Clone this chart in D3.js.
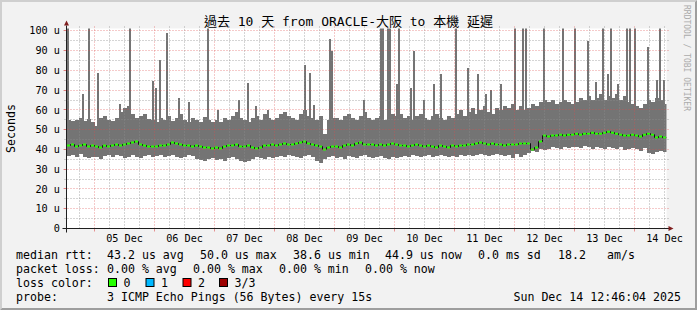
<!DOCTYPE html>
<html>
<head>
<meta charset="utf-8">
<script src="https://cdn.jsdelivr.net/npm/d3@7"></script>
<style>
body { margin: 0; background: #f2f2f2; }
svg { display: block; }
text { font-family: "DejaVu Sans Mono", "Noto Sans CJK TC", monospace; fill: #000; }
</style>
</head>
<body>
<svg width="697" height="310"></svg>
<script>
// rrd window: 10 days, consolidated every 96 minutes
const startTime = "2025-12-04T12:46:04";
const endTime = "2025-12-14T12:46:04";
const stepMinutes = 96;

// bottom of the smoke (us)
const lowRtt = [
  36.5, 37, 36, 37.5, 36, 35.5, 36,
  36, 35, 36.5, 37, 36, 37, 36.5, 35.5, 36, 37, 36, 35.5, 36.5, 37, 36,
  36.5, 37, 36, 36.5, 37, 36, 35.5, 36, 37, 36.5, 35, 34.5, 34, 35, 35.5,
  34.5, 35, 34, 35.5, 36, 35, 34, 33.5, 34, 35, 36, 35.5, 35, 36, 35.5,
  36, 36.5, 36, 37, 36.5, 36, 35.5, 36.5, 37, 36, 34, 33, 35, 36, 36.5,
  35.5, 36, 35, 36.5, 36, 35.5, 36.5, 37, 36, 35.5, 36, 36.5, 35.5, 35, 36,
  35.5, 36, 36.5, 36, 37, 36.5, 36, 36.5, 37, 36, 36.5, 37, 36.5, 36, 36.5,
  36, 37, 36.5, 37, 36.5, 37, 37.5, 37, 36.5, 37, 37.5, 37, 36.5, 37, 35.5,
  37.5, 36, 37, 38, 39, 38.5, 40, 39.5, 40, 41, 40.5, 40, 41, 40.5, 41,
  41, 40.5, 41.5, 41, 40, 41, 40.5, 40, 41, 40.5, 40, 41, 39.5, 40, 40.5,
  40, 39, 40.5, 38, 37.5, 38.5, 39, 38.5
];

// top of the dense smoke (us)
const highRtt = [
  55, 54.5, 55, 56, 54.5, 55.5, 54,
  52, 56, 57, 55, 54.5, 56, 59, 61, 62, 58, 56, 57, 58, 55.5, 55,
  54, 56, 55, 57, 54.5, 56, 58, 55, 54, 56, 55, 54, 56.5, 55, 54,
  55, 54, 56, 55, 57, 59, 56, 55, 54, 56, 57, 55, 58, 56, 55,
  56, 58, 59, 57, 56, 55, 58, 60, 57, 56, 55, 57, 48, 55, 56,
  56, 55, 57, 58, 56, 55, 57, 59, 56, 55, 56, 57, 55, 56, 58,
  57, 58, 56, 57, 55, 57, 58, 56, 55, 57, 58, 56, 55, 57, 56,
  58, 60, 57, 59, 61, 58, 60, 62, 59, 58, 61, 60, 62, 61, 63,
  60, 62, 60, 61, 63, 62, 64, 65, 64, 65, 63, 64, 65, 64, 63,
  64, 66, 65, 67, 65, 66, 68, 65, 67, 66, 68, 65, 67, 64, 63,
  62, 61, 63, 65, 64, 66, 65, 63
];

// median rtt (us)
const medianRtt = [
  42, 42.5, 41.5, 42, 42.5, 41.5, 42,
  41.5, 41, 42, 41.5, 42, 42.5, 42, 42.5, 43, 43.5, 44, 42.5, 42, 41.5, 41.5,
  41.5, 42, 42, 42.5, 43.5, 43, 42.5, 42, 42, 41.5, 42, 41.5, 41, 41, 40.5,
  41, 40.5, 41.5, 42, 42, 42.5, 41.5, 41.5, 42, 41, 40.5, 41, 42, 42, 42.5,
  42, 42.5, 43, 42.5, 42.5, 43, 43.5, 44, 43, 42.5, 42, 41.5, 40, 41, 41.5,
  41.5, 41, 42, 42.5, 42, 43, 43.5, 42.5, 42.5, 42.5, 42, 42.5, 42, 42.5, 43,
  42.5, 42, 42, 41.5, 42, 42.5, 42, 41.5, 42, 41.5, 41, 42, 41.5, 41, 42,
  41.5, 42, 42, 42.5, 42.5, 43, 43.5, 43, 42.5, 43, 42.5, 42.5, 42, 42.5, 42.5,
  42.5, 43, 43, 43, 40, 41, 44, 47, 46.5, 47, 47, 47.5, 47, 47.5, 47.5,
  48, 47.5, 48, 48, 48.5, 48, 48, 48.5, 49, 48.5, 48, 47.5, 47, 47, 47.5,
  47, 46.5, 47.5, 48, 47.5, 46, 46.5, 46
];

// single tall pings: [time, us]
const spikes = [
  ["2025-12-04T13:10", 105], ["2025-12-04T19:10", 68], ["2025-12-04T21:40", 105],
  ["2025-12-05T01:15", 78.5], ["2025-12-05T10:00", 63], ["2025-12-05T14:00", 105],
  ["2025-12-05T23:00", 74.5], ["2025-12-06T00:20", 71], ["2025-12-06T02:00", 85.5],
  ["2025-12-06T04:45", 99], ["2025-12-06T09:35", 66], ["2025-12-06T13:35", 64],
  ["2025-12-06T21:00", 105], ["2025-12-07T01:10", 60], ["2025-12-07T09:35", 65],
  ["2025-12-07T13:10", 73.5], ["2025-12-07T16:15", 62], ["2025-12-07T21:00", 60],
  ["2025-12-08T12:00", 82.5], ["2025-12-08T14:00", 78.5], ["2025-12-08T15:35", 62.5],
  ["2025-12-08T22:00", 96], ["2025-12-08T22:40", 90], ["2025-12-09T11:25", 65],
  ["2025-12-09T18:20", 105], ["2025-12-09T19:15", 105], ["2025-12-09T21:10", 105],
  ["2025-12-09T22:05", 105], ["2025-12-10T00:40", 73], ["2025-12-10T01:25", 105],
  ["2025-12-10T06:20", 71], ["2025-12-10T07:40", 90], ["2025-12-10T11:40", 65],
  ["2025-12-10T15:40", 73], ["2025-12-10T18:20", 78], ["2025-12-11T00:20", 105],
  ["2025-12-11T05:00", 81], ["2025-12-11T09:00", 78], ["2025-12-11T12:30", 68],
  ["2025-12-11T14:30", 70], ["2025-12-11T18:20", 73], ["2025-12-12T00:05", 105],
  ["2025-12-12T03:00", 105], ["2025-12-12T04:20", 105], ["2025-12-12T11:25", 105],
  ["2025-12-12T19:00", 105], ["2025-12-13T00:05", 105], ["2025-12-13T05:10", 95],
  ["2025-12-13T08:20", 74], ["2025-12-13T11:00", 105], ["2025-12-13T13:00", 78],
  ["2025-12-13T14:20", 105], ["2025-12-13T17:10", 73], ["2025-12-13T20:45", 105],
  ["2025-12-13T22:05", 105], ["2025-12-14T00:05", 105], ["2025-12-14T05:00", 92],
  ["2025-12-14T08:50", 75], ["2025-12-14T10:05", 105], ["2025-12-14T11:40", 75]
];

const yTicks = [0, 10, 20, 30, 40, 50, 60, 70, 80, 90, 100];
const yTickLabels = ["0", "10 u", "20 u", "30 u", "40 u", "50 u", "60 u", "70 u", "80 u", "90 u", "100 u"];
const dayLabels = ["05 Dec", "06 Dec", "07 Dec", "08 Dec", "09 Dec", "10 Dec", "11 Dec", "12 Dec", "13 Dec", "14 Dec"];

const title = "過去 10 天 from ORACLE-大阪 to 本機 延遲";
const rttLegend = ["median rtt:", "43.2 us avg", "50.0 us max", "38.6 us min", "44.9 us now", "0.0 ms sd", "18.2", "am/s"];
const lossLegend = ["packet loss:", "0.00 % avg", "0.00 % max", "0.00 % min", "0.00 % now"];
const lossLabels = ["0", "1", "2", "3/3"];
const probeLegend = ["probe:", "3 ICMP Echo Pings (56 Bytes) every 15s"];
const stamp = "Sun Dec 14 12:46:04 2025";

const lossColors = ["#26ff00", "#00b8ff", "#ff0000", "#9c0000"];

const W = 697, H = 310;
const svg = d3.select("svg");
const parseFull = d3.timeParse("%Y-%m-%dT%H:%M:%S");
const parseMin = d3.timeParse("%Y-%m-%dT%H:%M");
const t0 = parseFull(startTime), t1 = parseFull(endTime);

const X0 = 66.5, X1 = 666.5, Y0 = 228.5, Y1 = 28.5;
const x = d3.scaleTime().domain([t0, t1]).range([X0, X1]);
const y = d3.scaleLinear().domain([0, 101.2]).range([Y0, Y1]);
const px = v => Math.floor(v) + 0.5;

// frame
svg.append("rect").attr("width", W).attr("height", H).attr("fill", "#f2f2f2");
svg.append("path").attr("fill", "#cfcfcf")
  .attr("d", `M0,0H${W}L${W - 2},2H2V${H - 2}L0,${H}Z`);
svg.append("path").attr("fill", "#9e9e9e")
  .attr("d", `M${W},0V${H}H0L2,${H - 2}H${W - 2}V2Z`);

svg.append("rect").attr("x", X0).attr("y", Y1).attr("width", X1 - X0).attr("height", Y0 - Y1).attr("fill", "#fff");

svg.append("clipPath").attr("id", "cv").append("rect")
  .attr("x", X0).attr("y", Y1).attr("width", X1 - X0).attr("height", Y0 - Y1);

const bins = lowRtt.map((lo, i) => ({
  t: d3.timeMinute.offset(t0, i * stepMinutes),
  t2: d3.timeMinute.offset(t0, (i + 1) * stepMinutes),
  lo, hi: highRtt[i], med: medianRtt[i]
}));

const plot = svg.append("g").attr("clip-path", "url(#cv)");

// smoke
plot.append("g").attr("fill", "#747474").attr("shape-rendering", "crispEdges")
  .selectAll("rect").data(bins).join("rect")
  .attr("x", d => x(d.t))
  .attr("width", d => x(d.t2) - x(d.t) + 0.3)
  .attr("y", d => y(d.hi))
  .attr("height", d => y(d.lo) - y(d.hi));

plot.append("g").attr("fill", "#747474").attr("shape-rendering", "crispEdges")
  .selectAll("rect").data(spikes).join("rect")
  .attr("x", d => Math.floor(x(parseMin(d[0]))))
  .attr("width", 2)
  .attr("y", d => y(d[1]))
  .attr("height", d => y(45) - y(d[1]));

// median: dark step line, green level segments on top
const stepLine = d3.line().curve(d3.curveStepAfter)
  .x(d => x(d.t)).y(d => y(d.med));
plot.append("path").datum(bins.concat([{ t: t1, med: bins[bins.length - 1].med }]))
  .attr("d", stepLine).attr("fill", "none").attr("stroke", "#111").attr("stroke-width", 1);
plot.append("g").attr("stroke", lossColors[0]).attr("stroke-width", 2)
  .selectAll("line").data(bins).join("line")
  .attr("x1", d => x(d.t) + 0.5).attr("x2", d => x(d.t2) - 0.5)
  .attr("y1", d => y(d.med)).attr("y2", d => y(d.med));

// grid over the data, rrdtool style
const grid = svg.append("g").attr("fill", "none");
const minorH = d3.range(5, 101, 10);
grid.selectAll(".hmin").data(minorH).join("line")
  .attr("x1", X0 - 2).attr("x2", X1 + 2)
  .attr("y1", d => px(y(d))).attr("y2", d => px(y(d)))
  .attr("stroke", "rgba(143,143,143,0.75)").attr("stroke-dasharray", "1,2");
grid.selectAll(".hmaj").data(yTicks.slice(1)).join("line")
  .attr("x1", X0 - 2).attr("x2", X1 + 2)
  .attr("y1", d => px(y(d))).attr("y2", d => px(y(d)))
  .attr("stroke", "rgba(222,79,79,0.6)").attr("stroke-dasharray", "1,2");

const sixHours = d3.timeHour.every(6).range(t0, t1).filter(d => d.getHours() !== 0);
const days = d3.timeDay.range(d3.timeDay.ceil(t0), t1);
grid.selectAll(".vmin").data(sixHours).join("line")
  .attr("y1", Y1 - 2).attr("y2", Y0 + 2)
  .attr("x1", d => px(x(d))).attr("x2", d => px(x(d)))
  .attr("stroke", "rgba(143,143,143,0.75)").attr("stroke-dasharray", "1,2");
grid.selectAll(".vmaj").data(days).join("line")
  .attr("y1", Y1 - 2).attr("y2", Y0 + 2)
  .attr("x1", d => px(x(d))).attr("x2", d => px(x(d)))
  .attr("stroke", "rgba(222,79,79,0.6)").attr("stroke-dasharray", "1,2");

// small ticks on the axes
grid.selectAll(".ty").data(yTicks.slice(1)).join("line")
  .attr("x1", X0 - 3).attr("x2", X0)
  .attr("y1", d => px(y(d))).attr("y2", d => px(y(d)))
  .attr("stroke", "rgba(222,79,79,0.6)");
grid.selectAll(".tx").data(days).join("line")
  .attr("y1", Y0).attr("y2", Y0 + 3)
  .attr("x1", d => px(x(d))).attr("x2", d => px(x(d)))
  .attr("stroke", "rgba(222,79,79,0.6)");

// axes with arrows
const axisG = svg.append("g");
axisG.append("line").attr("x1", X0 - 4).attr("x2", X1 + 3).attr("y1", Y0).attr("y2", Y0)
  .attr("stroke", "#1f1f1f");
axisG.append("line").attr("x1", X0).attr("x2", X0).attr("y1", Y0 + 4).attr("y2", Y1 - 3)
  .attr("stroke", "#1f1f1f");
axisG.append("path").attr("fill", "#801f1f")
  .attr("d", `M${X1 + 2},${Y0 - 2.5}L${X1 + 7},${Y0}L${X1 + 2},${Y0 + 2.5}Z`);
axisG.append("path").attr("fill", "#801f1f")
  .attr("d", `M${X0 - 2.5},${Y1 - 3}L${X0},${Y1 - 8}L${X0 + 2.5},${Y1 - 3}Z`);

// axis labels
svg.append("g").attr("font-size", "10.2px").attr("text-anchor", "end")
  .selectAll("text").data(yTicks).join("text")
  .attr("x", 60).attr("y", d => y(d) + 3.6)
  .text((d, i) => yTickLabels[i]);

svg.append("g").attr("font-size", "10.2px").attr("text-anchor", "middle")
  .selectAll("text").data(days).join("text")
  .attr("x", d => x(d3.timeHour.offset(d, 12)))
  .attr("y", 242)
  .text((d, i) => dayLabels[i]);

svg.append("text").attr("font-size", "11.6px").attr("text-anchor", "middle")
  .attr("transform", "translate(14.5,128.5) rotate(-90)").text("Seconds");

svg.append("text").attr("x", 348.5).attr("y", 26).attr("font-size", "13px")
  .attr("text-anchor", "middle").text(title);

svg.append("text").attr("font-size", "8px").style("fill", "#ababab")
  .attr("transform", "translate(683.5,5) rotate(90)").text("RRDTOOL / TOBI OETIKER");

// legend
const leg = svg.append("g").attr("font-size", "11.6px").style("white-space", "pre");
const rowY = [258.5, 272.5, 286.5, 300.5];
const rttX = [16, 107, 200, 293, 385, 478, 558, 607];
const lossX = [16, 107, 193, 279, 365];
leg.selectAll(".r1").data(rttLegend).join("text")
  .attr("x", (d, i) => rttX[i]).attr("y", rowY[0]).text(d => d);
leg.selectAll(".r2").data(lossLegend).join("text")
  .attr("x", (d, i) => lossX[i]).attr("y", rowY[1]).text(d => d);
leg.append("text").attr("x", 16).attr("y", rowY[2]).text("loss color:");
const boxX = [108.5, 146, 183, 219.5];
leg.selectAll(".lb").data(lossLabels).join("rect")
  .attr("x", (d, i) => boxX[i]).attr("y", 278.5).attr("width", 8).attr("height", 8)
  .attr("fill", (d, i) => lossColors[i]).attr("stroke", "#000");
leg.selectAll(".lt").data(lossLabels).join("text")
  .attr("x", (d, i) => boxX[i] + 15).attr("y", rowY[2]).text(d => d);
leg.selectAll(".r4").data(probeLegend).join("text")
  .attr("x", (d, i) => [16, 107][i]).attr("y", rowY[3]).text(d => d);
leg.append("text").attr("x", 681).attr("y", rowY[3]).attr("text-anchor", "end").text(stamp);
</script>
</body>
</html>
